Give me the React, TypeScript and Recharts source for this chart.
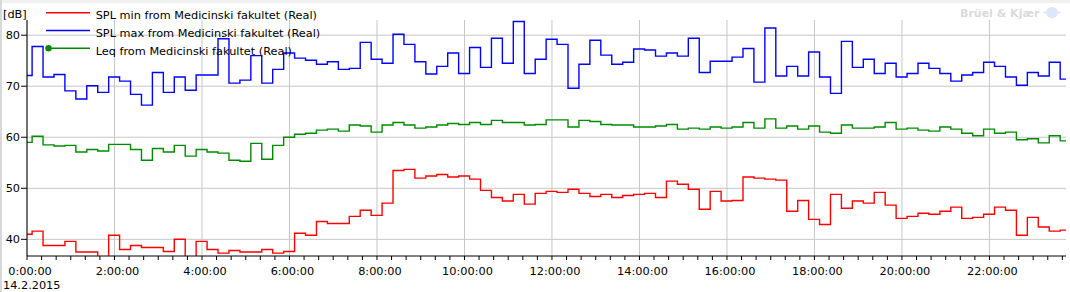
import React from 'react';
import { LineChart, Line, XAxis, YAxis, CartesianGrid, Legend, Customized } from 'recharts';

const FONT = '"DejaVu Sans", Verdana, sans-serif';

// 15-minute intervals, first one starts 8 minutes before 0:00 (clipped)
const splMin = [
  41.0, 41.6, 38.8, 38.8, 39.6, 37.5, 37.5, 35.5, 40.8, 38.0,
  38.8, 38.4, 38.4, 37.6, 40.0, 35.5, 39.6, 38.0, 37.3, 37.8,
  37.5, 37.5, 38.0, 37.3, 37.6, 41.2, 40.8, 43.5, 43.1, 43.1,
  44.5, 45.7, 44.7, 47.1, 53.5, 53.7, 52.0, 52.4, 52.7, 52.2,
  52.4, 51.8, 49.6, 48.2, 47.5, 48.8, 46.9, 49.0, 49.4, 49.2,
  49.8, 49.0, 48.4, 48.8, 48.2, 48.6, 48.8, 49.0, 48.2, 51.4,
  50.8, 49.8, 45.9, 49.4, 47.5, 47.6, 52.2, 52.0, 51.8, 51.6,
  45.5, 47.6, 43.9, 42.9, 48.8, 46.1, 47.5, 47.1, 49.2, 46.7,
  44.1, 44.5, 45.1, 44.9, 45.5, 46.3, 44.1, 44.3, 44.9, 46.3,
  45.7, 40.8, 44.3, 42.4, 41.6, 41.8,
];

const splMax = [
  72.1, 77.8, 71.8, 72.3, 69.1, 67.5, 70.1, 68.8, 71.8, 71.0,
  68.4, 66.3, 72.7, 68.8, 71.8, 69.2, 72.2, 72.2, 79.3, 70.6,
  71.2, 76.0, 70.6, 73.3, 76.5, 75.5, 75.1, 74.3, 74.8, 73.3,
  73.5, 78.6, 75.3, 74.5, 80.2, 78.2, 74.8, 72.4, 73.9, 76.5,
  72.5, 77.6, 73.7, 79.4, 74.5, 82.7, 72.5, 75.3, 79.2, 78.2,
  69.6, 74.3, 79.0, 76.1, 74.3, 74.7, 77.3, 77.1, 75.9, 76.5,
  75.9, 79.4, 72.7, 74.9, 74.9, 75.7, 77.4, 70.8, 81.4, 72.0,
  73.9, 72.0, 76.7, 71.8, 68.6, 78.8, 73.7, 75.3, 72.5, 74.5,
  71.8, 72.5, 74.5, 73.5, 72.5, 71.0, 72.2, 72.7, 74.7, 73.9,
  71.8, 70.2, 72.7, 72.0, 74.7, 71.4,
];

const leq = [
  59.0, 60.2, 58.5, 58.3, 58.4, 57.1, 57.6, 57.3, 58.6, 58.6,
  57.6, 55.5, 57.8, 57.1, 58.4, 56.3, 57.6, 57.1, 56.9, 55.5,
  55.3, 58.8, 55.7, 58.4, 60.0, 60.6, 60.8, 61.4, 61.6, 61.2,
  62.4, 62.2, 61.0, 62.4, 62.9, 62.4, 61.8, 62.0, 62.4, 62.7,
  62.5, 62.9, 62.5, 63.3, 62.9, 62.9, 62.4, 62.5, 63.4, 63.4,
  62.0, 63.3, 63.1, 62.5, 62.4, 62.4, 62.0, 62.0, 62.2, 62.5,
  61.6, 61.8, 61.6, 62.0, 61.8, 62.0, 62.9, 61.8, 63.6, 61.8,
  62.2, 61.6, 62.2, 61.0, 60.8, 62.4, 61.8, 61.8, 62.0, 62.9,
  61.6, 61.8, 61.4, 61.2, 62.0, 61.6, 60.8, 60.3, 61.6, 60.8,
  61.0, 59.5, 59.7, 58.9, 60.3, 59.3,
];

const startMinute = -8;
const intervalMinutes = 15;
const xDomain: [number, number] = [0, 1425];
const yDomain: [number, number] = [36.73, 82.98];
const majorTicks = [0, 120, 240, 360, 480, 600, 720, 840, 960, 1080, 1200, 1320];
const minorTicks = Array.from({ length: 72 }, (_, i) => i * 20);
const yTicks = [40, 50, 60, 70, 80];

const seriesNames = [
  'SPL min from Medicinski fakultet (Real)',
  'SPL max from Medicinski fakultet (Real)',
  'Leq from Medicinski fakultet (Real)',
];
const seriesColors = ['#ff0000', '#0000ff', '#008a00'];
const unitLabel = '[dB]';
const dateLabel = '14.2.2015';
const brandLabel = 'Brüel & Kjær';

const rows = splMin.map((v, i) => ({
  t: startMinute + intervalMinutes * i,
  min: v,
  max: splMax[i],
  leq: leq[i],
}));
rows.push({
  t: startMinute + intervalMinutes * splMin.length,
  min: splMin[splMin.length - 1],
  max: splMax[splMax.length - 1],
  leq: leq[leq.length - 1],
});

const fmtTime = (m: number) => `${Math.floor(m / 60)}:00:00`;

const TimeTick = (props: any) => {
  const { x, y, payload } = props;
  if (payload.value % 120 !== 0) return <g />;
  return (
    <text x={x + 3} y={y + 13} textAnchor="middle" fill="#000" fontSize={11.3} fontFamily={FONT}>
      {fmtTime(payload.value)}
    </text>
  );
};

const LegendBox = () => (
  <svg width={380} height={60} style={{ display: 'block', overflow: 'visible' }}>
    {seriesNames.map((name, i) => {
      const ly = 12.7 + 17.8 * i;
      return (
        <g key={name}>
          <line x1={46} x2={90} y1={ly} y2={ly} stroke={seriesColors[i]} strokeWidth={1.5} />
          {i === 2 && <circle cx={48.5} cy={ly} r={3.2} fill={seriesColors[i]} />}
          <text x={95.7} y={ly + 6.3} fontSize={11.3} fontFamily={FONT} fill="#000">
            {name}
          </text>
        </g>
      );
    })}
  </svg>
);

const Extras = () => (
  <g>
    <rect x={0} y={0} width={1070} height={3} fill="#f0f0f0" />
    <rect x={0} y={0} width={2} height={292} fill="#d8d8d8" />
    <text x={3} y={18.3} fontSize={11.3} fontFamily={FONT} fill="#000">{unitLabel}</text>
    <text x={3} y={289} fontSize={11.3} fontFamily={FONT} fill="#000">{dateLabel}</text>
    <text x={960} y={16.5} fontSize={11} fontWeight="bold" fontFamily={FONT} fill="#d9dadd">{brandLabel}</text>
    <ellipse cx={1052} cy={12.5} rx={6} ry={5.5} fill="#dde7f7" />
    <line x1={1043} x2={1061} y1={12.5} y2={12.5} stroke="#dde7f7" strokeWidth={1.5} />
  </g>
);

export default function App() {
  return (
    <div style={{ position: 'absolute', left: 0, top: 0, width: 1070, height: 292, background: '#fff' }}>
      <LineChart width={1070} height={292} data={rows} margin={{ top: 20, right: 4, bottom: 0, left: 0 }}>
        <XAxis
          xAxisId="main"
          type="number"
          dataKey="t"
          domain={xDomain}
          allowDataOverflow
          ticks={minorTicks}
          interval={0}
          tick={<TimeTick />}
          tickSize={4}
          tickLine={{ stroke: '#000' }}
          axisLine={{ stroke: '#000' }}
          height={36}
        />
        <YAxis
          yAxisId="y"
          type="number"
          domain={yDomain}
          allowDataOverflow
          ticks={yTicks}
          interval={0}
          width={27}
          tickSize={6}
          tickMargin={1}
          tickLine={{ stroke: '#000' }}
          axisLine={{ stroke: '#000' }}
          tick={{ fill: '#000', fontSize: 11.3, fontFamily: FONT }}
        />
        <CartesianGrid xAxisId="main" yAxisId="y" stroke="#c6c6c6" verticalValues={majorTicks} horizontalValues={yTicks} />
        <Line xAxisId="main" yAxisId="y" type="stepAfter" dataKey="leq" name={seriesNames[2]} stroke={seriesColors[2]} strokeWidth={1.4} dot={false} isAnimationActive={false} />
        <Line xAxisId="main" yAxisId="y" type="stepAfter" dataKey="min" name={seriesNames[0]} stroke={seriesColors[0]} strokeWidth={1.4} dot={false} isAnimationActive={false} />
        <Line xAxisId="main" yAxisId="y" type="stepAfter" dataKey="max" name={seriesNames[1]} stroke={seriesColors[1]} strokeWidth={1.4} dot={false} isAnimationActive={false} />
        <Legend
          layout="vertical"
          align="center"
          verticalAlign="middle"
          content={<LegendBox />}
          wrapperStyle={{ left: 0, top: 0, width: 380, height: 60 }}
        />
        <Customized component={<Extras />} />
      </LineChart>
    </div>
  );
}
